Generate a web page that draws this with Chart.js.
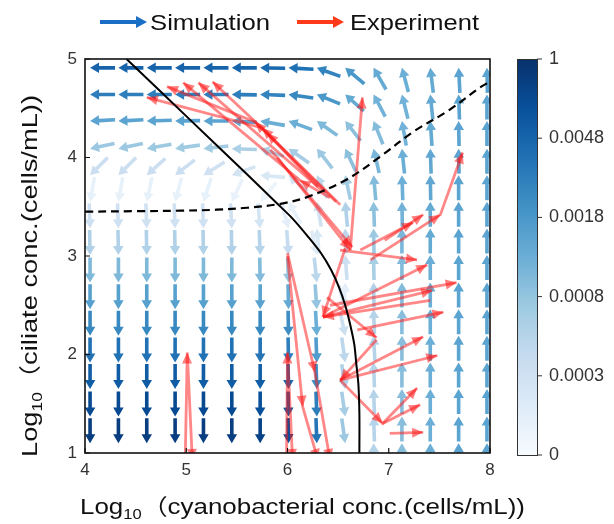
<!DOCTYPE html>
<html lang="en">
<head>
<meta charset="UTF-8">
<title>Phase plane</title>
<script src="https://cdn.jsdelivr.net/npm/chart.js@4.4.1/dist/chart.umd.min.js"></script>
<style>
  html, body { margin: 0; padding: 0; background: #fff; }
  #wrap { width: 614px; height: 524px; }
</style>
</head>
<body>
<div id="wrap"><canvas id="phase" width="614" height="524"></canvas></div>
<script>
// simulated field: grid in log10 units, arrow angle (deg, 0 = right, 90 = up), colour level 0..1
var gridX = [4.05, 4.33, 4.61, 4.89, 5.17, 5.45, 5.73, 6.01, 6.29, 6.57, 6.85, 7.13, 7.41, 7.69, 7.97];
var gridY = [4.91, 4.64, 4.37, 4.09, 3.82, 3.55, 3.28, 3.01, 2.73, 2.46, 2.19, 1.92, 1.65, 1.37, 1.10];

var fieldAngle = [
  [180, 180, 180, 180, 180, 180, 179, 177, 160, 140, 120, 105, 97, 93, 91],
  [180, 180, 180, 180, 180, 179, 178, 172, 158, 138, 118, 104, 96, 92, 90],
  [183, 183, 182, 181, 180, 177, 170, 160, 145, 128, 112, 100, 94, 91, 90],
  [192, 192, 190, 188, 186, 178, 162, 145, 128, 115, 103, 96, 92, 91, 90],
  [225, 225, 222, 218, 212, 200, 175, 140, 115, 102, 95, 92, 91, 90, 90],
  [260, 260, 258, 255, 252, 245, 230, 120, 100, 95, 92, 91, 90, 90, 90],
  [272, 272, 272, 272, 272, 273, 275, 285, 95, 92, 91, 90, 90, 90, 90],
  [271, 271, 271, 271, 271, 271, 272, 274, 282, 94, 91, 90, 90, 90, 90],
  [270, 270, 270, 270, 270, 270, 271, 272, 276, 88, 91, 90, 90, 90, 90],
  [270, 270, 270, 270, 270, 270, 270, 271, 274, 285, 92, 90, 90, 90, 90],
  [270, 270, 270, 270, 270, 270, 270, 271, 273, 282, 93, 90, 90, 90, 90],
  [270, 270, 270, 270, 270, 270, 270, 271, 272, 278, 92, 90, 90, 90, 90],
  [270, 270, 270, 270, 270, 270, 270, 271, 272, 278, 92, 90, 90, 90, 90],
  [270, 270, 270, 270, 270, 270, 270, 271, 272, 278, 92, 90, 90, 90, 90],
  [270, 270, 270, 270, 270, 270, 270, 271, 272, 278, 92, 90, 90, 90, 90]
];

var fieldLevel = [
  [0.80, 0.80, 0.80, 0.80, 0.80, 0.80, 0.78, 0.75, 0.68, 0.60, 0.52, 0.50, 0.52, 0.55, 0.55],
  [0.70, 0.70, 0.70, 0.70, 0.70, 0.70, 0.68, 0.66, 0.60, 0.52, 0.48, 0.48, 0.52, 0.55, 0.55],
  [0.55, 0.55, 0.55, 0.55, 0.55, 0.53, 0.50, 0.50, 0.45, 0.42, 0.44, 0.48, 0.52, 0.55, 0.55],
  [0.38, 0.38, 0.38, 0.37, 0.36, 0.33, 0.33, 0.35, 0.38, 0.42, 0.46, 0.50, 0.53, 0.55, 0.55],
  [0.22, 0.22, 0.22, 0.22, 0.20, 0.18, 0.15, 0.20, 0.28, 0.36, 0.44, 0.50, 0.53, 0.55, 0.55],
  [0.08, 0.08, 0.08, 0.08, 0.08, 0.07, 0.06, 0.08, 0.20, 0.32, 0.42, 0.48, 0.52, 0.55, 0.55],
  [0.20, 0.20, 0.20, 0.20, 0.20, 0.20, 0.18, 0.10, 0.15, 0.28, 0.38, 0.46, 0.52, 0.55, 0.55],
  [0.32, 0.32, 0.32, 0.32, 0.32, 0.32, 0.30, 0.25, 0.12, 0.22, 0.34, 0.44, 0.50, 0.55, 0.55],
  [0.45, 0.45, 0.45, 0.45, 0.45, 0.45, 0.44, 0.40, 0.28, 0.10, 0.32, 0.44, 0.50, 0.55, 0.55],
  [0.56, 0.56, 0.56, 0.56, 0.56, 0.56, 0.55, 0.52, 0.40, 0.15, 0.30, 0.43, 0.50, 0.55, 0.55],
  [0.66, 0.66, 0.66, 0.66, 0.66, 0.66, 0.66, 0.64, 0.50, 0.22, 0.30, 0.43, 0.50, 0.55, 0.55],
  [0.75, 0.75, 0.75, 0.75, 0.75, 0.75, 0.74, 0.70, 0.58, 0.28, 0.30, 0.43, 0.50, 0.55, 0.55],
  [0.83, 0.83, 0.83, 0.83, 0.83, 0.83, 0.82, 0.78, 0.64, 0.32, 0.30, 0.43, 0.50, 0.55, 0.55],
  [0.90, 0.90, 0.90, 0.90, 0.90, 0.90, 0.88, 0.84, 0.70, 0.35, 0.30, 0.43, 0.50, 0.55, 0.55],
  [0.95, 0.95, 0.95, 0.95, 0.95, 0.95, 0.93, 0.88, 0.74, 0.38, 0.30, 0.43, 0.50, 0.55, 0.55]
];

// black curves
var solidCurve = [[4.41, 5.0], [5.0, 4.42], [5.6, 3.83], [5.9, 3.53], [6.05, 3.38], [6.2, 3.2], [6.33, 3.03],
  [6.43, 2.86], [6.51, 2.68], [6.57, 2.5], [6.62, 2.3], [6.66, 2.1], [6.68, 1.9], [6.70, 1.7], [6.71, 1.4], [6.71, 1.0]];
var dashedCurve = [[4.0, 3.45], [4.5, 3.455], [4.94, 3.46], [5.3, 3.47], [5.6, 3.49], [5.93, 3.53], [6.2, 3.6],
  [6.59, 3.78], [6.93, 4.02], [7.24, 4.26], [7.58, 4.47], [7.90, 4.71], [8.0, 4.77]];

// experiment trajectories, each point joined to the next by an arrow
var expPaths = [
  [[6.52, 3.52], [5.75, 4.30], [4.61, 4.61]],
  [[6.48, 3.55], [5.68, 4.36], [4.81, 4.72]],
  [[6.42, 3.59], [6.12, 3.77], [4.97, 4.76]],
  [[6.37, 3.64], [5.12, 4.76]],
  [[6.30, 3.70], [5.80, 4.25], [5.26, 4.77]],
  [[5.83, 4.08], [6.64, 3.09]],
  [[5.90, 4.00], [6.62, 3.06]],
  [[6.62, 3.06], [6.74, 4.61]],
  [[6.72, 3.06], [7.24, 3.34]],
  [[6.96, 3.16], [7.34, 3.42]],
  [[6.82, 2.96], [7.51, 3.42], [7.73, 4.05]],
  [[6.52, 3.06], [7.28, 2.96]],
  [[6.35, 2.38], [7.38, 2.91]],
  [[7.41, 2.55], [6.35, 2.38]],
  [[6.35, 2.38], [7.43, 2.65]],
  [[6.42, 2.50], [7.67, 2.73]],
  [[6.69, 2.25], [7.54, 2.43]],
  [[6.88, 2.15], [6.52, 1.74]],
  [[6.52, 1.74], [7.48, 1.99]],
  [[6.52, 1.74], [7.34, 2.18]],
  [[6.52, 1.74], [6.94, 1.30], [7.28, 1.66]],
  [[6.94, 1.30], [7.31, 1.49]],
  [[7.01, 1.20], [7.34, 1.21]],
  [[6.39, 2.58], [6.88, 2.17]],
  [[6.57, 3.08], [6.35, 2.38]],
  [[4.99, 0.93], [5.01, 2.02], [5.06, 0.93]],
  [[5.99, 0.93], [6.00, 2.02], [6.05, 0.93]],
  [[6.00, 3.03], [6.27, 1.82]],
  [[6.00, 3.00], [6.15, 1.47], [6.30, 0.93]],
  [[6.27, 1.82], [6.42, 0.93]]
];

var xTicks = [4, 5, 6, 7, 8];
var yTicks = [1, 2, 3, 4, 5];
var cbarTicks = ['1', '0.0048', '0.0018', '0.0008', '0.0003', '0'];
var legendNames = ['Simulation', 'Experiment'];

var FONT = "'Liberation Sans', Arial, 'Noto Sans CJK SC', sans-serif";
var blues = ['#f7fbff', '#deebf7', '#c6dbef', '#9ecae1', '#6baed6', '#4292c6', '#2171b5', '#08519c', '#08306b'];

function hexRgb(h) {
  return [parseInt(h.substr(1, 2), 16), parseInt(h.substr(3, 2), 16), parseInt(h.substr(5, 2), 16)];
}
function bluesAt(t) {
  t = Math.max(0, Math.min(1, t)) * 8;
  var i = Math.min(7, Math.floor(t)), f = t - i;
  var a = hexRgb(blues[i]), b = hexRgb(blues[i + 1]);
  return 'rgb(' + Math.round(a[0] + (b[0] - a[0]) * f) + ',' + Math.round(a[1] + (b[1] - a[1]) * f) + ',' +
    Math.round(a[2] + (b[2] - a[2]) * f) + ')';
}

function drawArrow(ctx, x0, y0, x1, y1, shaftW, headL, headW, color) {
  var dx = x1 - x0, dy = y1 - y0, len = Math.hypot(dx, dy);
  var ux = dx / len, uy = dy / len, px = -uy, py = ux;
  var bx = x1 - ux * headL, by = y1 - uy * headL;
  ctx.beginPath();
  ctx.moveTo(x0 + px * shaftW / 2, y0 + py * shaftW / 2);
  ctx.lineTo(bx + px * shaftW / 2, by + py * shaftW / 2);
  ctx.lineTo(bx + px * headW / 2, by + py * headW / 2);
  ctx.lineTo(x1, y1);
  ctx.lineTo(bx - px * headW / 2, by - py * headW / 2);
  ctx.lineTo(bx - px * shaftW / 2, by - py * shaftW / 2);
  ctx.lineTo(x0 - px * shaftW / 2, y0 - py * shaftW / 2);
  ctx.closePath();
  ctx.fillStyle = color;
  ctx.fill();
}

function drawHead(ctx, x0, y0, x1, y1, headL, headW, color) {
  var dx = x1 - x0, dy = y1 - y0, len = Math.hypot(dx, dy);
  var ux = dx / len, uy = dy / len, px = -uy, py = ux;
  var bx = x1 - ux * headL, by = y1 - uy * headL;
  ctx.beginPath();
  ctx.moveTo(x1, y1);
  ctx.lineTo(bx + px * headW / 2, by + py * headW / 2);
  ctx.lineTo(bx - px * headW / 2, by - py * headW / 2);
  ctx.closePath();
  ctx.fillStyle = color;
  ctx.fill();
}

// text made of pieces [text, size, dy], squeezed or stretched to a given width
function drawFitted(ctx, pieces, width) {
  var total = 0;
  pieces.forEach(function (p) { ctx.font = p[1] + 'px ' + FONT; total += ctx.measureText(p[0]).width; });
  var sx = width / total;
  ctx.scale(sx, 1);
  var x = 0;
  pieces.forEach(function (p) {
    ctx.font = p[1] + 'px ' + FONT;
    ctx.fillText(p[0], x, p[2]);
    x += ctx.measureText(p[0]).width;
  });
}

var phasePlugin = {
  id: 'phase',
  beforeDatasetsDraw: function (chart) {
    var ctx = chart.ctx, xs = chart.scales.x, ys = chart.scales.y, a = chart.chartArea;
    ctx.save();
    ctx.beginPath();
    ctx.rect(a.left, a.top, a.right - a.left, a.bottom - a.top);
    ctx.clip();
    for (var k = 0; k < gridY.length; k++) {
      for (var i = 0; i < gridX.length; i++) {
        var lv = fieldLevel[k][i];
        if (lv < 0.03) continue;
        var ang = fieldAngle[k][i] * Math.PI / 180;
        var tx = xs.getPixelForValue(gridX[i]), ty = ys.getPixelForValue(gridY[k]);
        var ux = Math.cos(ang), uy = -Math.sin(ang);
        drawArrow(ctx, tx - ux * 25, ty - uy * 25, tx, ty, 3.6, 9, 10.5, bluesAt(lv));
      }
    }
    ctx.restore();
  },
  afterDatasetsDraw: function (chart) {
    var ctx = chart.ctx, xs = chart.scales.x, ys = chart.scales.y, a = chart.chartArea;
    ctx.save();
    ctx.beginPath();
    ctx.rect(a.left, a.top, a.right - a.left, a.bottom - a.top);
    ctx.clip();
    expPaths.forEach(function (path) {
      for (var j = 1; j < path.length; j++) {
        drawHead(ctx, xs.getPixelForValue(path[j - 1][0]), ys.getPixelForValue(path[j - 1][1]),
          xs.getPixelForValue(path[j][0]), ys.getPixelForValue(path[j][1]), 11, 10, 'rgba(255,20,20,0.55)');
      }
    });
    ctx.restore();

    // frame and inward ticks
    ctx.save();
    ctx.strokeStyle = '#111';
    ctx.lineWidth = 1.6;
    ctx.strokeRect(a.left, a.top, a.right - a.left, a.bottom - a.top);
    ctx.lineWidth = 1.2;
    ctx.beginPath();
    xTicks.forEach(function (v) {
      var px = xs.getPixelForValue(v);
      ctx.moveTo(px, a.bottom); ctx.lineTo(px, a.bottom - 5);
    });
    yTicks.forEach(function (v) {
      var py = ys.getPixelForValue(v);
      ctx.moveTo(a.left, py); ctx.lineTo(a.left + 5, py);
    });
    ctx.stroke();
    ctx.restore();
  },
  afterDraw: function (chart) {
    var ctx = chart.ctx, a = chart.chartArea;

    // colour bar
    var cx = a.right + 27, cw = 20, ct = a.top, cb = a.bottom + 2;
    var g = ctx.createLinearGradient(0, cb, 0, ct);
    blues.forEach(function (c, i) { g.addColorStop(i / (blues.length - 1), c); });
    ctx.save();
    ctx.fillStyle = g;
    ctx.fillRect(cx, ct, cw, cb - ct);
    ctx.strokeStyle = '#333';
    ctx.lineWidth = 1;
    ctx.strokeRect(cx + 0.5, ct + 0.5, cw, cb - ct);
    ctx.font = '18px ' + FONT;
    ctx.fillStyle = '#333';
    ctx.textBaseline = 'middle';
    cbarTicks.forEach(function (t, i) {
      var py = ct + (cb - ct) * i / (cbarTicks.length - 1);
      ctx.beginPath();
      ctx.moveTo(cx + cw, py); ctx.lineTo(cx + cw + 5, py);
      ctx.stroke();
      ctx.fillText(t, cx + cw + 12, py);
    });
    ctx.restore();

    // legend
    ctx.save();
    ctx.textBaseline = 'alphabetic';
    drawArrow(ctx, 100, 22, 147, 22, 4, 11, 12, '#1b6ec6');
    drawArrow(ctx, 297, 22, 344, 22, 4, 11, 12, '#ff3a1a');
    ctx.fillStyle = '#111';
    ctx.save(); ctx.translate(150, 30); drawFitted(ctx, [[legendNames[0], 22, 0]], 120); ctx.restore();
    ctx.save(); ctx.translate(350, 30); drawFitted(ctx, [[legendNames[1], 22, 0]], 129); ctx.restore();
    ctx.restore();

    // axis titles
    ctx.save();
    ctx.fillStyle = '#111';
    ctx.translate(80, 514);
    drawFitted(ctx, [['Log', 22, 0], ['10', 14, 5], ['\uFF08cyanobacterial conc.(cells/mL))', 22, 0]], 445);
    ctx.restore();
    ctx.save();
    ctx.fillStyle = '#111';
    ctx.translate(37, 457);
    ctx.rotate(-Math.PI / 2);
    drawFitted(ctx, [['Log', 22, 0], ['10', 14, 5], ['\uFF08ciliate conc.(cells/mL))', 22, 0]], 362);
    ctx.restore();
  }
};

var datasets = [
  {
    data: solidCurve.map(function (p) { return { x: p[0], y: p[1] }; }),
    showLine: true, borderColor: '#000', borderWidth: 2, pointRadius: 0, tension: 0.3, order: 0
  },
  {
    data: dashedCurve.map(function (p) { return { x: p[0], y: p[1] }; }),
    showLine: true, borderColor: '#000', borderWidth: 2.2, borderDash: [8, 5], pointRadius: 0, tension: 0.35, order: 0
  }
];
expPaths.forEach(function (path) {
  datasets.push({
    data: path.map(function (p) { return { x: p[0], y: p[1] }; }),
    showLine: true, borderColor: 'rgba(255,25,25,0.52)', borderWidth: 2.8, pointRadius: 0, tension: 0, order: 1
  });
});

new Chart(document.getElementById('phase'), {
  type: 'scatter',
  data: { datasets: datasets },
  options: {
    responsive: false,
    animation: false,
    events: [],
    layout: { padding: { left: 0, right: 124, top: 59, bottom: 0 } },
    plugins: { legend: { display: false }, tooltip: { enabled: false } },
    scales: {
      x: {
        type: 'linear', min: 4, max: 8,
        ticks: { stepSize: 1, padding: 7, color: '#333', font: { family: FONT, size: 17 } },
        grid: { display: false, drawTicks: false },
        border: { display: false },
        afterFit: function (s) { s.height = 71; }
      },
      y: {
        type: 'linear', min: 1, max: 5,
        ticks: { stepSize: 1, padding: 8, color: '#333', font: { family: FONT, size: 17 } },
        grid: { display: false, drawTicks: false },
        border: { display: false },
        afterFit: function (s) { s.width = 85; }
      }
    }
  },
  plugins: [phasePlugin]
});
</script>
</body>
</html>
